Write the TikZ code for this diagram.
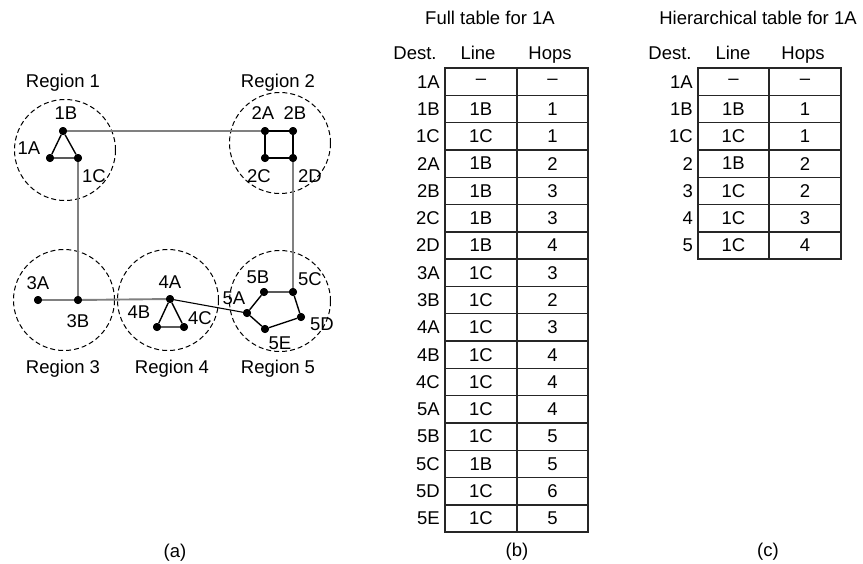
\documentclass[tikz,border=0pt]{standalone}
\usepackage{fontspec}
\setmainfont{Liberation Sans}
\begin{document}
\begin{tikzpicture}[x=1pt,y=-1pt,
  dot/.style={circle,fill=black,inner sep=0pt,minimum size=8pt},
  lbl/.style={inner sep=0pt,anchor=base,font=\fontsize{18.5}{22}\selectfont},
  region/.style={draw,circle,dash pattern=on 5pt off 3pt,line width=1pt,minimum size=101pt,inner sep=0pt},
  trunk/.style={draw=black!50,line width=1.9pt},
  link/.style={draw=black,line width=1.4pt},
  cell/.style={draw=black!85,line width=1.4pt,rectangle,minimum height=27.3pt,inner sep=0pt,font=\fontsize{18.5}{22}\selectfont}
]
\useasboundingbox (0,0) rectangle (863,563);

% regions
\node[region] (r1) at (65,150) {};
\node[region] (r2) at (280,143) {};
\node[region] (r3) at (64,300) {};
\node[region] (r4) at (168,300) {};
\node[region] (r5) at (280,301) {};
\node[lbl] (t1) at (63,87.5) {Region 1};
\node[lbl] (t2) at (278,87.5) {Region 2};
\node[lbl] (t3) at (63,373.5) {Region 3};
\node[lbl] (t4) at (172,373.5) {Region 4};
\node[lbl] (t5) at (278,373.5) {Region 5};

% routers
\node[dot] (n1A) at (50,158) {};
\node[dot] (n1B) at (63,131) {};
\node[dot] (n1C) at (78,158) {};
\node[dot] (n2A) at (265,131) {};
\node[dot] (n2B) at (293,131) {};
\node[dot] (n2C) at (265,158) {};
\node[dot] (n2D) at (293,158) {};
\node[dot] (n3A) at (38,300) {};
\node[dot] (n3B) at (78,300) {};
\node[dot] (n4A) at (170,299) {};
\node[dot] (n4B) at (157,327) {};
\node[dot] (n4C) at (184,327) {};
\node[dot] (n5A) at (247,313) {};
\node[dot] (n5B) at (264,292) {};
\node[dot] (n5C) at (293,292) {};
\node[dot] (n5D) at (301,317) {};
\node[dot] (n5E) at (265,329) {};

% router labels
\node[lbl] (l1A) at (29,154.5) {1A};
\node[lbl] (l1B) at (66,119.5) {1B};
\node[lbl] (l1C) at (94,182.5) {1C};
\node[lbl] (l2A) at (263,119.5) {2A};
\node[lbl] (l2B) at (295,119.5) {2B};
\node[lbl] (l2C) at (259,182.5) {2C};
\node[lbl] (l2D) at (310,182.5) {2D};
\node[lbl] (l3A) at (38,289.5) {3A};
\node[lbl] (l3B) at (78,327.5) {3B};
\node[lbl] (l4A) at (170,288.5) {4A};
\node[lbl] (l4B) at (139,318.5) {4B};
\node[lbl] (l4C) at (200,324.5) {4C};
\node[lbl] (l5A) at (234,304.5) {5A};
\node[lbl] (l5B) at (258,283.5) {5B};
\node[lbl] (l5C) at (310,285.5) {5C};
\node[lbl] (l5D) at (322,330.5) {5D};
\node[lbl] (l5E) at (280,349.5) {5E};

% inter-region trunks
\draw[trunk] (n1B) -- (n2A);
\draw[trunk] (n1C) -- (n3B);
\draw[trunk] (n2D) -- (n5C);
\draw[trunk] (n3A) -- (n3B);
\draw[trunk] (n3B) -- (n4A);
\draw[link,line width=1.1pt] (n4A) -- (n5A);

% intra-region links
\draw[link] (n1A) -- (n1B) -- (n1C) -- (n1A);
\draw[link] (n2A) -- (n2B) -- (n2D) -- (n2C) -- (n2A);
\draw[link] (n4A) -- (n4B) -- (n4C) -- (n4A);
\draw[link] (n5A) -- (n5B) -- (n5C) -- (n5D) -- (n5E) -- (n5A);

% redraw dots on top
\foreach \n in {1A,1B,1C,2A,2B,2C,2D,3A,3B,4A,4B,4C,5A,5B,5C,5D,5E}
  \fill (n\n) circle[radius=4];

\node[lbl] (capa) at (175,557) {(a)};

% full table
\node[lbl] (titb) at (490,24.5) {Full table for 1A};
\node[lbl] (hbd) at (415,59.5) {Dest.};
\node[lbl] (hbl) at (478,59.5) {Line};
\node[lbl] (hbh) at (550,59.5) {Hops};
\foreach \d/\l/\h [count=\i] in {1A/–/–,1B/1B/1,1C/1C/1,2A/1B/2,2B/1B/3,2C/1B/3,2D/1B/4,3A/1C/3,3B/1C/2,4A/1C/3,4B/1C/4,4C/1C/4,5A/1C/4,5B/1C/5,5C/1B/5,5D/1C/6,5E/1C/5}{
  \pgfmathsetmacro\yy{68+27.3*(\i-0.5)}
  \node[lbl,anchor=east] (bd\i) at (440,\yy) {\d};
  \node[cell,minimum width=72pt] (bl\i) at (481,\yy) {\l};
  \node[cell,minimum width=71pt] (bh\i) at (552.5,\yy) {\h};
}
\node[lbl] (capb) at (517,556.5) {(b)};

% hierarchical table
\node[lbl] (titc) at (758,24.5) {Hierarchical table for 1A};
\node[lbl] (hcd) at (670,59.5) {Dest.};
\node[lbl] (hcl) at (733,59.5) {Line};
\node[lbl] (hch) at (803,59.5) {Hops};
\foreach \d/\l/\h [count=\i] in {1A/–/–,1B/1B/1,1C/1C/1,2/1B/2,3/1C/2,4/1C/3,5/1C/4}{
  \pgfmathsetmacro\yy{68+27.3*(\i-0.5)}
  \node[lbl,anchor=east] (cd\i) at (693,\yy) {\d};
  \node[cell,minimum width=71pt] (cl\i) at (733.5,\yy) {\l};
  \node[cell,minimum width=72pt] (ch\i) at (805,\yy) {\h};
}
\node[lbl] (capc) at (768,556.5) {(c)};
\end{tikzpicture}
\end{document}
